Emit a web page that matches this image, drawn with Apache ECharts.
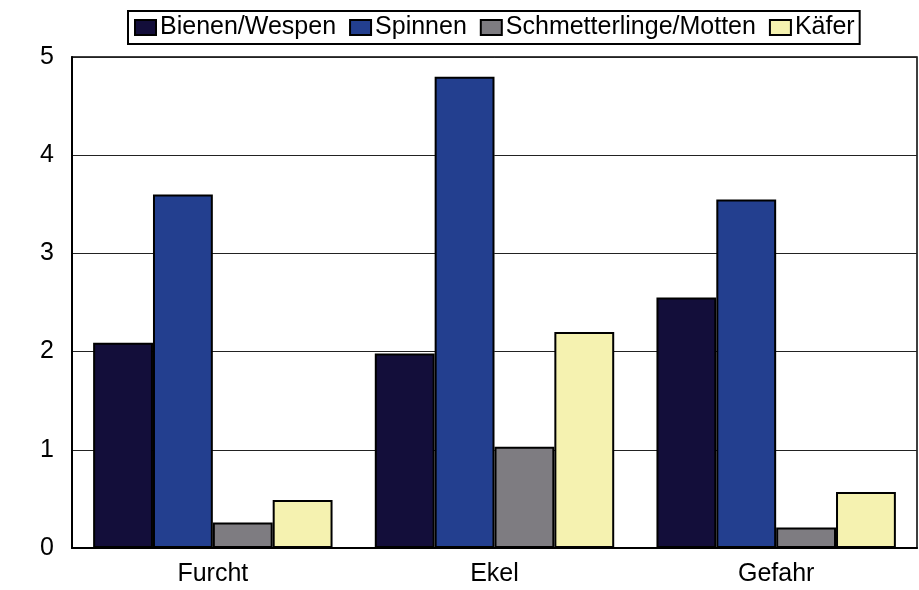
<!DOCTYPE html>
<html>
<head>
<meta charset="utf-8">
<script src="https://cdn.jsdelivr.net/npm/echarts@6/dist/echarts.min.js"></script>
<style>
  html, body { margin: 0; padding: 0; background: #fff; }
  #chart { width: 919px; height: 590px; }
</style>
</head>
<body>
<div id="chart"></div>
<script>
// Ratings per category for each group of insects
const categories = ['Furcht', 'Ekel', 'Gefahr'];
const seriesNames = ['Bienen/Wespen', 'Spinnen', 'Schmetterlinge/Motten', 'Käfer'];
const bienenWespen = [2.09, 1.98, 2.55];
const spinnen = [3.60, 4.80, 3.55];
const schmetterlingeMotten = [0.26, 1.03, 0.21];
const kaefer = [0.49, 2.20, 0.57];
const yTicks = [0, 1, 2, 3, 4, 5];

const colors = ['#130e3a', '#233f8f', '#7e7c81', '#f5f2b0'];
const values = [bienenWespen, spinnen, schmetterlingeMotten, kaefer];

const chart = echarts.init(document.getElementById('chart'), null, { renderer: 'canvas' });
const font = 'Liberation Sans, Arial, sans-serif';

chart.setOption({
  animation: false,
  backgroundColor: '#fff',
  legend: {
    left: 128,
    top: 11,
    padding: [4, 5, 4, 6],
    itemGap: 13,
    itemWidth: 21,
    itemHeight: 15,
    borderColor: '#000',
    borderWidth: 2,
    backgroundColor: '#fff',
    textStyle: { fontFamily: font, fontSize: 25, color: '#000', padding: [0, 0, 0, -1] },
    data: seriesNames.map((n, i) => ({
      name: n,
      icon: 'rect',
      itemStyle: { color: colors[i], borderColor: '#000', borderWidth: 2 }
    }))
  },
  grid: {
    left: 72, right: 2, top: 57, bottom: 42,
    show: true, borderColor: '#000', borderWidth: 1.5
  },
  xAxis: {
    type: 'category',
    data: categories,
    axisLine: { lineStyle: { color: '#000', width: 2 } },
    axisTick: { show: false },
    axisLabel: { fontFamily: font, fontSize: 25, color: '#000', margin: 14 }
  },
  yAxis: {
    type: 'value',
    min: yTicks[0],
    max: yTicks[yTicks.length - 1],
    interval: 1,
    axisLine: { show: true, lineStyle: { color: '#000', width: 2 } },
    axisTick: { show: false },
    axisLabel: { fontFamily: font, fontSize: 25, color: '#000', margin: 18 },
    splitLine: { lineStyle: { color: '#222', width: 1 } }
  },
  series: seriesNames.map((n, i) => ({
    name: n,
    type: 'bar',
    data: values[i],
    barGap: '0%',
    barCategoryGap: '15%',
    itemStyle: { color: colors[i], borderColor: '#000', borderWidth: 2 }
  }))
});
</script>
</body>
</html>
